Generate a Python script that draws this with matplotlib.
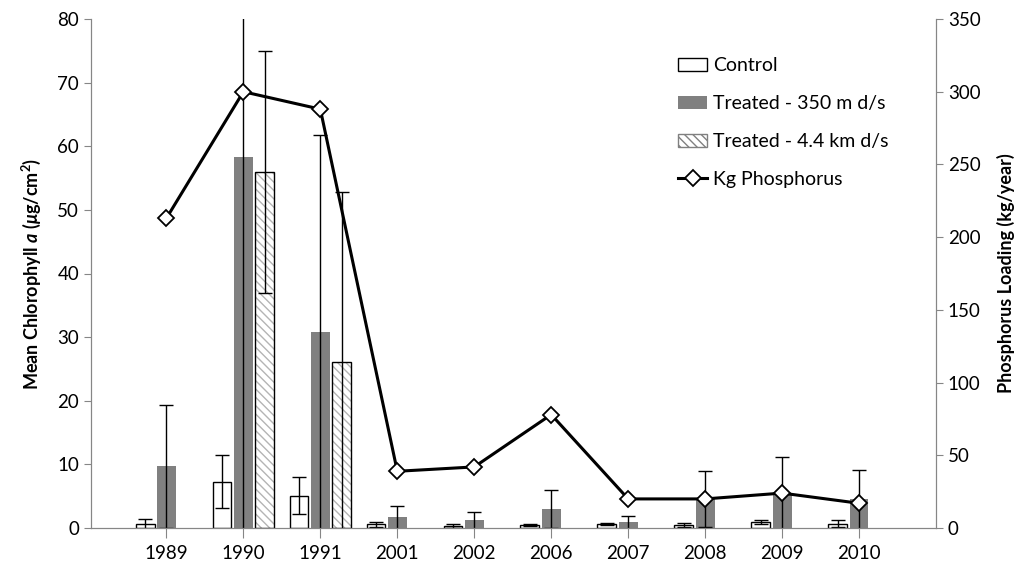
import numpy as np
import matplotlib
matplotlib.use("Agg")
import matplotlib.pyplot as plt
from matplotlib.patches import Patch

plt.rcParams['font.family'] = ['Lato', 'DejaVu Sans']
plt.rcParams['mathtext.fontset'] = 'custom'
plt.rcParams['mathtext.it'] = 'Lato:italic:bold'
plt.rcParams['mathtext.rm'] = 'Lato:bold'
plt.rcParams['hatch.linewidth'] = 1.0

years = ['1989', '1990', '1991', '2001', '2002', '2006', '2007', '2008', '2009', '2010']
control = [0.6, 7.3, 5.1, 0.6, 0.3, 0.5, 0.6, 0.5, 1.0, 0.7]
control_err = [0.8, 4.2, 2.9, 0.4, 0.3, 0.2, 0.15, 0.3, 0.3, 0.5]
treated_350 = [9.7, 58.3, 30.8, 1.7, 1.2, 3.0, 0.9, 4.6, 5.5, 4.5]
treated_350_err = [9.7, 60.0, 31.0, 1.8, 1.3, 3.0, 1.0, 4.4, 5.6, 4.6]
treated_44 = [np.nan, 55.9, 26.1, np.nan, np.nan, np.nan, np.nan, np.nan, np.nan, np.nan]
treated_44_err = [np.nan, 19.0, 26.7, np.nan, np.nan, np.nan, np.nan, np.nan, np.nan, np.nan]
phosphorus = [213, 300, 288, 39, 42, 78, 20, 20, 24, 17]

x = np.arange(len(years))
w = 0.245
off = 0.277

fig = plt.figure(figsize=(10.26, 5.67), dpi=100)
ax = fig.add_axes([91/1026, 1 - 528/567, (936 - 91)/1026, (528 - 19)/567])
ax2 = ax.twinx()

ekw = dict(ecolor='black', elinewidth=1.0, capsize=5, capthick=1.0)
ax.bar(x - off, control, w, color='white', edgecolor='black', linewidth=1.0,
       yerr=control_err, error_kw=ekw, zorder=2)
ax.bar(x, treated_350, w, color='#808080', edgecolor='none',
       yerr=treated_350_err, error_kw=ekw, zorder=2)
ax.bar(x + off, treated_44, w, color='white', edgecolor='#b4b4b4', hatch='\\\\\\\\',
       linewidth=0, zorder=2)
ax.bar(x + off, treated_44, w, fill=False, edgecolor='black', linewidth=1.0,
       yerr=treated_44_err, error_kw=ekw, zorder=3)

ln, = ax2.plot(x, phosphorus, color='black', lw=2.2, marker='D', markersize=8,
               markerfacecolor='white', markeredgecolor='black', markeredgewidth=1.3,
               label='Kg Phosphorus', zorder=5)

ax.set_xlim(-0.98, 10)
ax.set_ylim(0, 80)
ax2.set_ylim(0, 350)
ax.set_yticks(range(0, 81, 10))
ax2.set_yticks(range(0, 351, 50))
ax.set_xticks(x)
ax.set_xticklabels(years)

for a in (ax, ax2):
    a.spines['top'].set_visible(False)
    for s in ('left', 'right', 'bottom'):
        a.spines[s].set_color('#868686')
    a.tick_params(colors='#868686', labelcolor='black', labelsize=13.5, length=5)
ax.tick_params(axis='x', length=7, pad=5)
ax.patch.set_visible(False)
ax.set_zorder(1)
ax2.set_zorder(2)

ax.set_ylabel('Mean Chlorophyll $a$ ($\\mathit{\\mu}$g/cm$^\\mathrm{2}$)', fontsize=13,
              fontweight='bold', labelpad=10)
ax2.set_ylabel('Phosphorus Loading (kg/year)', fontsize=13, fontweight='bold', labelpad=12)

h_ctrl = Patch(facecolor='white', edgecolor='black', label='Control')
h_350 = Patch(facecolor='#808080', edgecolor='none', label='Treated - 350 m d/s')
h_44 = Patch(facecolor='white', edgecolor='#808080', hatch='\\\\\\\\', label='Treated - 4.4 km d/s')
ax2.legend(handles=[h_ctrl, h_350, h_44, ln], loc='upper left',
           bbox_to_anchor=(0.695, 0.925), frameon=False, fontsize=14,
           labelspacing=1.08, handlelength=1.5, handletextpad=0.3,
           borderpad=0, borderaxespad=0)

fig.savefig('out.png', dpi=100)
